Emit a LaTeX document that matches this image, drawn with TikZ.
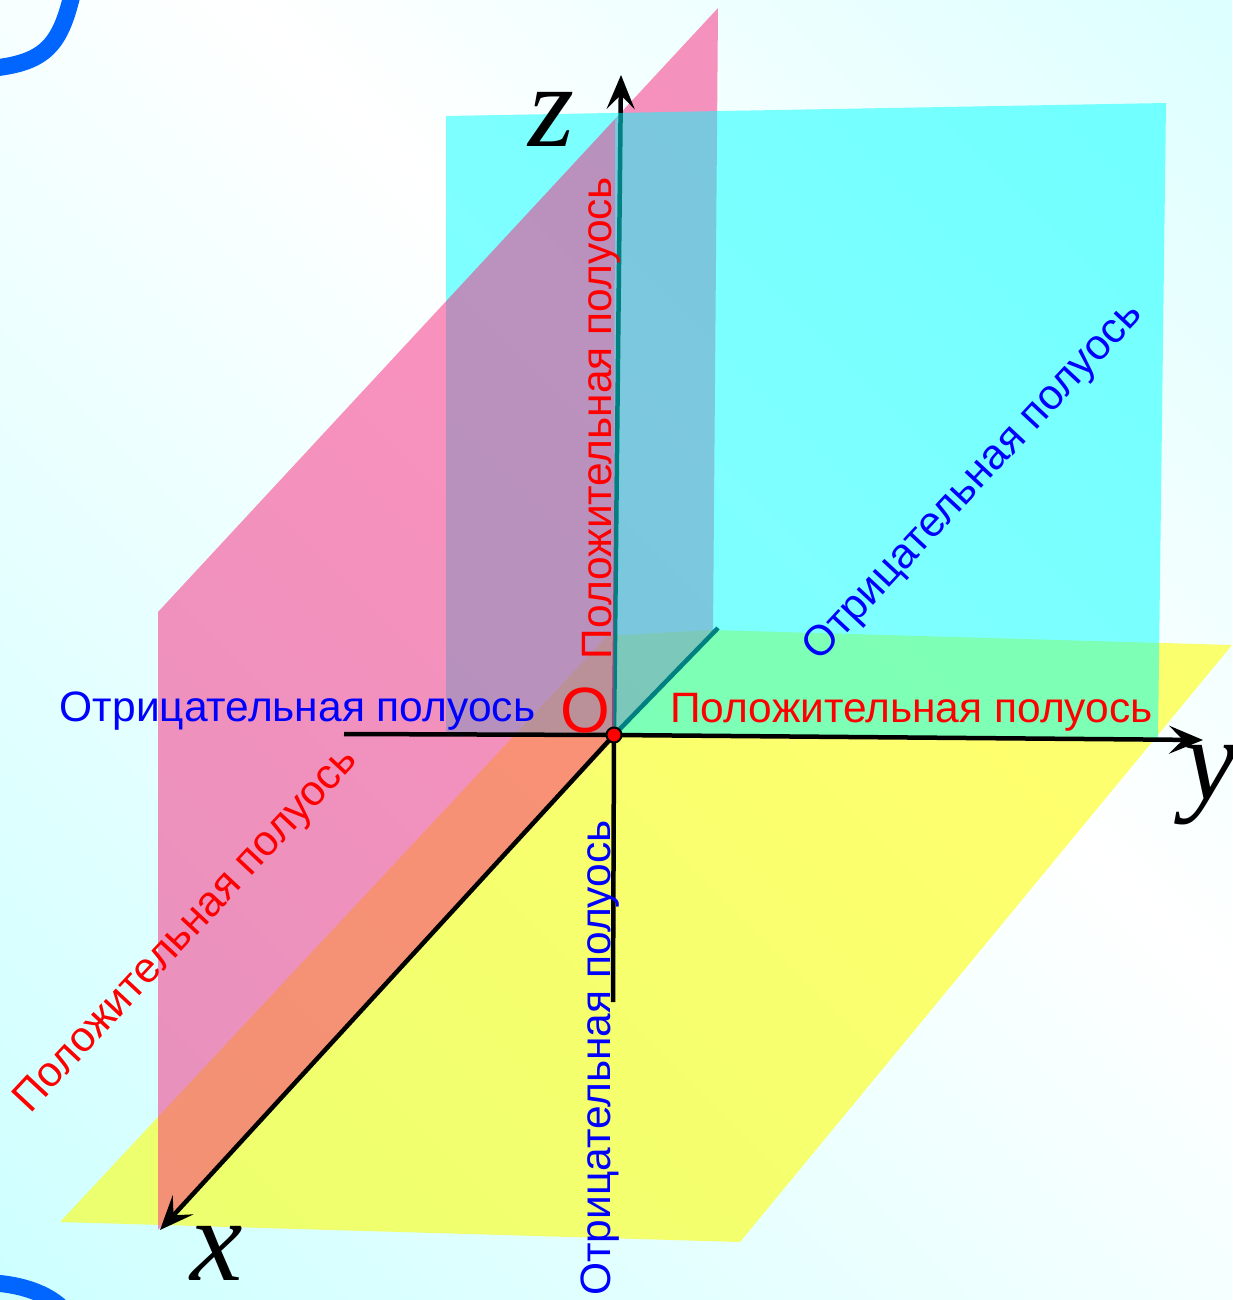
\documentclass[tikz,border=0pt]{standalone}
\usepackage{fontspec}
\setmainfont{Liberation Sans}
\newfontfamily\axisfont{Liberation Serif}
\usetikzlibrary{arrows.meta}
\definecolor{pinkplane}{RGB}{248,36,125}
\definecolor{cyanplane}{RGB}{0,255,255}
\definecolor{yellowplane}{RGB}{255,255,0}
\definecolor{curveblue}{RGB}{0,102,255}
\definecolor{paperll}{RGB}{205,255,255}
\definecolor{paperur}{RGB}{220,255,255}
\pgfdeclarehorizontalshading{paperglow}{1800bp}{color(0bp)=(paperll); color(1090bp)=(white); color(1790bp)=(paperur)}

\begin{document}
\begin{tikzpicture}[x=1pt, y=-1pt, >={Stealth[length=34pt,width=28pt,inset=14pt]},
  axisline/.style={draw=black, line width=4.5pt},
  pinkpart/.style={fill=pinkplane, fill opacity=0.5},
  cyanpart/.style={fill=cyanplane, fill opacity=0.5},
  yellowpart/.style={fill=yellowplane, fill opacity=0.57},
  halfaxis/.style={font=\fontsize{42.5}{42.5}\selectfont, inner sep=0pt},
  axisname/.style={font=\fontsize{118}{118}\selectfont\axisfont\itshape, inner sep=0pt},
  cornerarc/.style={draw=curveblue, line width=17pt}]
  \useasboundingbox (0,0) rectangle (1232,1300);
  \clip (0,0) rectangle (1232,1300);
  \node[rotate=45, inner sep=0pt] (paper) at (616,650) {\pgfuseshading{paperglow}};
  \draw[cornerarc] (-5,68) .. controls (45,62) and (60,45) .. (72,-5);
  \draw[cornerarc] (-5,1283) .. controls (20,1285) and (45,1292) .. (62,1308);

  \coordinate (O) at (614,735);
  \coordinate (xtip) at (160,1230);
  \coordinate (ytip) at (1203,740);
  \coordinate (ztip) at (621,75);
  \coordinate (xback) at (718,628);
  \coordinate (yback) at (344,734);
  \coordinate (zback) at (613,1002);

  \fill[yellowpart] (60,1222) -- (740,1242) -- (1232,645) -- (712,630) -- (607,636) -- cycle;
  \fill[pinkpart] (615,119) -- (718,8) -- (713,632) -- (614,739) -- cycle;
  \draw[axisline, ->] (O) -- (ztip);
  \draw[axisline] (O) -- (xback);
  \fill[cyanpart] (446,116) -- (1166,103) -- (1158,738) -- (446,734) -- cycle;
  \fill[pinkpart] (158,612) -- (615,119) -- (614,739) -- (158,1230) -- cycle;
  \draw[axisline, ->] (O) -- (xtip);
  \draw[axisline, ->] (O) -- (ytip);
  \draw[axisline] (O) -- (yback);
  \draw[axisline] (O) -- (zback);
  \node[circle, draw=black, fill=red, line width=2pt, minimum size=15pt, inner sep=0pt] (origin) at (O) {};

  \node[axisname] (xname) at (217,1253) {x};
  \node[axisname] (yname) at (1211,785) {y};
  \node[axisname] (zname) at (551,119.5) {z};
  \node[font=\fontsize{64}{64}\selectfont, text=red, inner sep=0pt] (oname) at (585,710) {О};

  \node[halfaxis, text=red, rotate=90] (zpos) at (601,418) {Положительная полуось};
  \node[halfaxis, text=blue, rotate=90] (zneg) at (600,1058) {Отрицательная полуось};
  \node[halfaxis, text=red] (ypos) at (911.5,712) {Положительная полуось};
  \node[halfaxis, text=blue] (yneg) at (297.5,711) {Отрицательная полуось};
  \node[halfaxis, text=blue, rotate=47] (xneg) at (974,482) {Отрицательная полуось};
  \node[halfaxis, text=red, rotate=47] (xpos) at (187,931) {Положительная полуось};
\end{tikzpicture}
\end{document}
